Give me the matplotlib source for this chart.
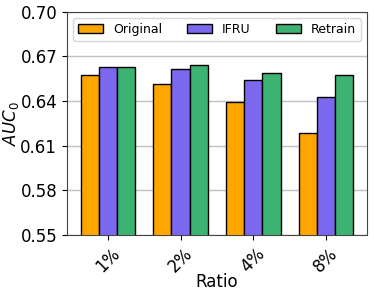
import matplotlib
matplotlib.use('Agg')
import matplotlib.pyplot as plt
import numpy as np

ratios = ['1%', '2%', '4%', '8%']
original = [0.6574, 0.6513, 0.6395, 0.6186]
ifru = [0.6628, 0.6614, 0.6545, 0.6426]
retrain = [0.6632, 0.6641, 0.6592, 0.6574]

x = np.arange(len(ratios))
w = 0.25

fig, ax = plt.subplots(figsize=(3.74, 2.97), dpi=100)
fig.subplots_adjust(left=0.179, right=0.981, top=0.960, bottom=0.209)

ax.bar(x - w, original, w, color='orange', edgecolor='black', label='Original', zorder=3)
ax.bar(x, ifru, w, color='mediumslateblue', edgecolor='black', label='IFRU', zorder=3)
ax.bar(x + w, retrain, w, color='mediumseagreen', edgecolor='black', label='Retrain', zorder=3)

ax.set_ylim(0.55, 0.70)
ax.set_yticks([0.55, 0.58, 0.61, 0.64, 0.67, 0.70])
ax.set_yticklabels(['0.55', '0.58', '0.61', '0.64', '0.67', '0.70'], fontsize=12)
ax.set_xticks(x)
ax.set_xticklabels(ratios, fontsize=12, rotation=45)
ax.set_xlabel('Ratio', fontsize=12, labelpad=-2)
ax.set_ylabel('$AUC_0$', fontsize=12)
ax.yaxis.set_label_coords(-0.153, 0.5)
ax.yaxis.grid(True, color='#c0c0c0', linewidth=1, zorder=0)
ax.set_axisbelow(True)
for s in ax.spines.values():
    s.set_color('#444444')

ax.legend(loc='upper center', ncol=3, fontsize=9, mode='expand',
          bbox_to_anchor=(0, 0, 1, 1))

plt.savefig('out.png', dpi=100)
